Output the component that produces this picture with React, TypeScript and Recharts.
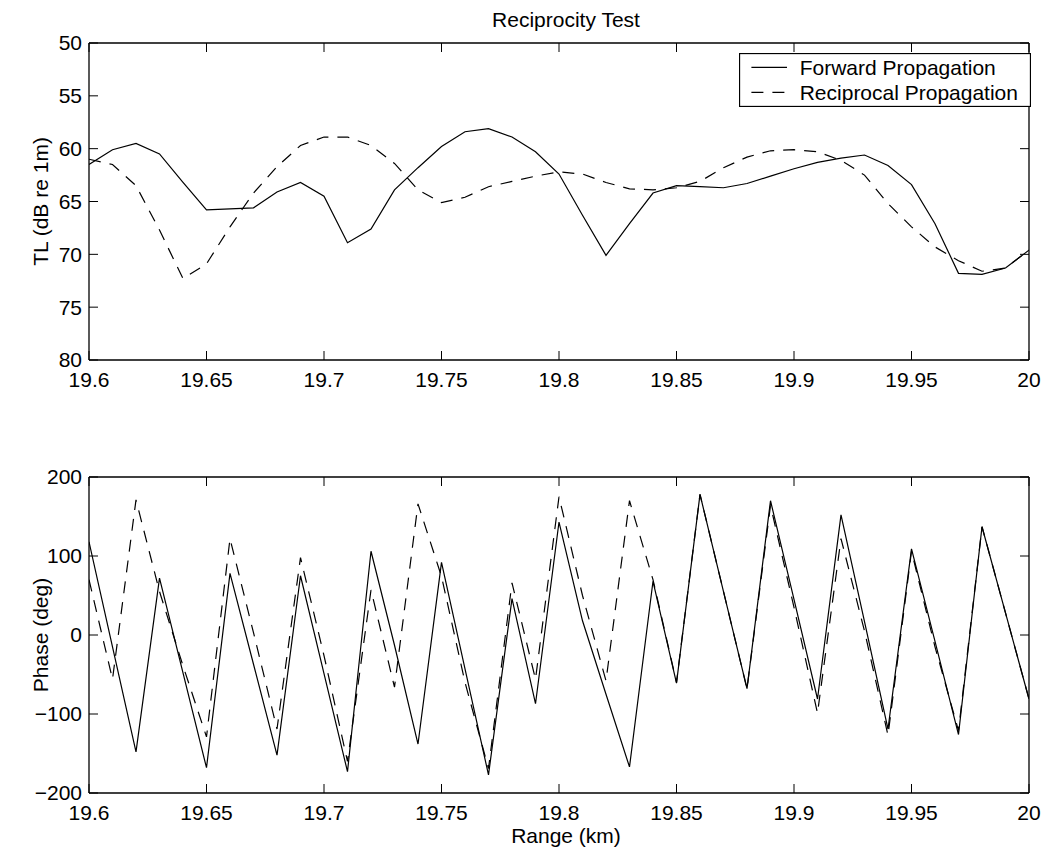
import React from 'react';
import { LineChart, Line, XAxis, YAxis, Legend, Label } from 'recharts';

const FONT = '"Liberation Sans", Arial, Helvetica, sans-serif';
const FS = 21;

const rangeKm = [
  19.60, 19.61, 19.62, 19.63, 19.64, 19.65, 19.66, 19.67, 19.68, 19.69,
  19.70, 19.71, 19.72, 19.73, 19.74, 19.75, 19.76, 19.77, 19.78, 19.79,
  19.80, 19.81, 19.82, 19.83, 19.84, 19.85, 19.86, 19.87, 19.88, 19.89,
  19.90, 19.91, 19.92, 19.93, 19.94, 19.95, 19.96, 19.97, 19.98, 19.99, 20.00,
];

const tlForward = [
  61.5, 60.1, 59.5, 60.5, 63.2, 65.8, 65.7, 65.6, 64.1, 63.2,
  64.5, 68.9, 67.6, 63.9, 61.8, 59.8, 58.4, 58.1, 58.9, 60.3,
  62.4, 66.3, 70.1, 67.1, 64.2, 63.5, 63.6, 63.7, 63.3, 62.6,
  61.9, 61.3, 60.9, 60.6, 61.6, 63.4, 67.1, 71.8, 71.9, 71.3, 69.6,
];

const tlReciprocal = [
  61.0, 61.5, 63.5, 67.7, 72.3, 70.9, 67.4, 64.2, 61.7, 59.7,
  58.9, 58.9, 59.7, 61.4, 63.9, 65.1, 64.6, 63.6, 63.1, 62.6,
  62.2, 62.4, 63.2, 63.8, 63.9, 63.7, 63.1, 61.8, 60.8, 60.2,
  60.1, 60.3, 61.1, 62.5, 65.2, 67.4, 69.3, 70.6, 71.6, 71.3, 69.6,
];

const phaseForward = [
  118, -15, -148, 72, -48, -168, 78, -37, -152, 75,
  -49, -173, 106, -13, -138, 92, -43, -177, 46, -87,
  143, 18, -75, -167, 68, -61, 178, 55, -68, 170,
  45, -81, 152, 17, -119, 109, -8, -126, 137, 28, -81,
];

const phaseReciprocal = [
  70, -56, 171, 55, -39, -129, 122, 3, -119, 98,
  -26, -160, 57, -66, 166, 74, -60, -169, 66, -56,
  175, 50, -58, 170, 70, -60, 178, 55, -68, 164,
  35, -99, 122, 5, -127, 106, -15, -121, 137, 28, -81,
];

const xTicks = [19.6, 19.65, 19.7, 19.75, 19.8, 19.85, 19.9, 19.95, 20];
const xTickLabels = ['19.6', '19.65', '19.7', '19.75', '19.8', '19.85', '19.9', '19.95', '20'];
const tlTicks = [50, 55, 60, 65, 70, 75, 80];
const tlTickLabels = ['50', '55', '60', '65', '70', '75', '80'];
const phaseTicks = [-200, -100, 0, 100, 200];
const phaseTickLabels = ['\u2212200', '\u2212100', '0', '100', '200'];

const seriesNames = ['Forward Propagation', 'Reciprocal Propagation'];
const titleText = 'Reciprocity Test';
const tlAxisTitle = 'TL (dB re 1m)';
const phaseAxisTitle = 'Phase (deg)';
const xAxisTitle = 'Range (km)';

const tlData = rangeKm.map((x, i) => ({ x, forward: tlForward[i], reciprocal: tlReciprocal[i] }));
const phaseData = rangeKm.map((x, i) => ({ x, forward: phaseForward[i], reciprocal: phaseReciprocal[i] }));

const lookup = (ticks: number[], labels: string[]) => (v: number) => {
  const i = ticks.findIndex((t) => Math.abs(t - v) < 1e-6);
  return i >= 0 ? labels[i] : '';
};
const blank = () => '';

const DASH = '12 9';
const tickStyle = { fill: '#000', fontSize: FS, fontFamily: FONT };
const axisLineStyle = { stroke: '#000', strokeWidth: 1.3 };
const tickLineStyle = { stroke: '#000', strokeWidth: 1 };

const TitleContent = (props: any) => {
  const vb = props.viewBox || {};
  return (
    <text x={vb.x + vb.width / 2 + 7} y={26.7} textAnchor="middle" fontFamily={FONT} fontSize={FS} fill="#000">
      {titleText}
    </text>
  );
};

const makeYTitle = (text: string) => (props: any) => {
  const vb = props.viewBox || {};
  const cx = 48.3;
  const cy = vb.y + vb.height / 2;
  return (
    <text x={cx} y={cy} textAnchor="middle" fontFamily={FONT} fontSize={FS} fill="#000" transform={`rotate(-90, ${cx}, ${cy})`}>
      {text}
    </text>
  );
};

const XTitleContent = (props: any) => {
  const vb = props.viewBox || {};
  return (
    <text x={vb.x + vb.width / 2 + 7} y={vb.y + 50} textAnchor="middle" fontFamily={FONT} fontSize={FS} fill="#000">
      {xAxisTitle}
    </text>
  );
};

const LegendBox = (props: any) => {
  const payload = (props.payload || []) as any[];
  const entries = payload.length ? payload : seriesNames.map((n, i) => ({ value: n, payload: { strokeDasharray: i ? DASH : undefined } }));
  return (
    <svg width={292} height={54} style={{ display: 'block' }}>
      <rect x={0.5} y={0.5} width={291} height={53} fill="#fff" stroke="#000" strokeWidth={1.3} />
      {entries.map((e: any, i: number) => {
        const ly = 14.4 + i * 25;
        const dash = e.payload && e.payload.strokeDasharray ? e.payload.strokeDasharray : undefined;
        return (
          <g key={i}>
            <line x1={12.4} x2={48} y1={ly} y2={ly} stroke="#000" strokeWidth={1.2} strokeDasharray={dash} />
            <text x={60.7} y={21.7 + i * 25} fontFamily={FONT} fontSize={FS} fill="#000">
              {e.value}
            </text>
          </g>
        );
      })}
    </svg>
  );
};

export default function App() {
  return (
    <div style={{ position: 'absolute', left: 0, top: 0, width: 1045, height: 854, background: '#fff' }}>
      <div style={{ position: 'absolute', left: 0, top: 0 }}>
        <LineChart width={1045} height={420} data={tlData} margin={{ top: 42, right: 15, bottom: 0, left: 0 }}>
          <XAxis
            xAxisId="b" dataKey="x" type="number" domain={[19.6, 20]} ticks={xTicks} interval={0}
            tickFormatter={lookup(xTicks, xTickLabels)} tick={tickStyle} tickSize={-9} tickMargin={21}
            axisLine={axisLineStyle} tickLine={tickLineStyle} height={60} allowDataOverflow
          />
          <XAxis
            xAxisId="t" orientation="top" dataKey="x" type="number" domain={[19.6, 20]} ticks={xTicks} interval={0}
            tickFormatter={blank} tickSize={-9} tickMargin={0} axisLine={axisLineStyle} tickLine={tickLineStyle} height={1} allowDataOverflow
          >
            <Label content={TitleContent} />
          </XAxis>
          <YAxis
            yAxisId="l" type="number" domain={[50, 80]} reversed ticks={tlTicks} interval={0}
            tickFormatter={lookup(tlTicks, tlTickLabels)} tick={tickStyle} tickSize={-9} tickMargin={16}
            axisLine={axisLineStyle} tickLine={tickLineStyle} width={89} allowDataOverflow
          >
            <Label content={makeYTitle(tlAxisTitle)} />
          </YAxis>
          <YAxis
            yAxisId="r" orientation="right" type="number" domain={[50, 80]} reversed ticks={tlTicks} interval={0}
            tickFormatter={blank} tickSize={-9} tickMargin={0} axisLine={axisLineStyle} tickLine={tickLineStyle} width={1} allowDataOverflow
          />
          <Legend
            layout="vertical" align="center" verticalAlign="middle" content={LegendBox}
            wrapperStyle={{ left: 739, top: 53, width: 292, height: 54 }}
          />
          <Line xAxisId="b" yAxisId="l" type="linear" dataKey="forward" name={seriesNames[0]} stroke="#000" strokeWidth={1.2} dot={false} isAnimationActive={false} />
          <Line xAxisId="b" yAxisId="l" type="linear" dataKey="reciprocal" name={seriesNames[1]} stroke="#000" strokeWidth={1.2} strokeDasharray={DASH} dot={false} isAnimationActive={false} />
        </LineChart>
      </div>
      <div style={{ position: 'absolute', left: 0, top: 420 }}>
        <LineChart width={1045} height={434} data={phaseData} margin={{ top: 56, right: 15, bottom: 0, left: 0 }}>
          <XAxis
            xAxisId="b" dataKey="x" type="number" domain={[19.6, 20]} ticks={xTicks} interval={0}
            tickFormatter={lookup(xTicks, xTickLabels)} tick={tickStyle} tickSize={-9} tickMargin={21}
            axisLine={axisLineStyle} tickLine={tickLineStyle} height={61} allowDataOverflow
          >
            <Label content={XTitleContent} />
          </XAxis>
          <XAxis
            xAxisId="t" orientation="top" dataKey="x" type="number" domain={[19.6, 20]} ticks={xTicks} interval={0}
            tickFormatter={blank} tickSize={-9} tickMargin={0} axisLine={axisLineStyle} tickLine={tickLineStyle} height={1} allowDataOverflow
          />
          <YAxis
            yAxisId="l" type="number" domain={[-200, 200]} ticks={phaseTicks} interval={0}
            tickFormatter={lookup(phaseTicks, phaseTickLabels)} tick={tickStyle} tickSize={-9} tickMargin={16}
            axisLine={axisLineStyle} tickLine={tickLineStyle} width={89} allowDataOverflow
          >
            <Label content={makeYTitle(phaseAxisTitle)} />
          </YAxis>
          <YAxis
            yAxisId="r" orientation="right" type="number" domain={[-200, 200]} ticks={phaseTicks} interval={0}
            tickFormatter={blank} tickSize={-9} tickMargin={0} axisLine={axisLineStyle} tickLine={tickLineStyle} width={1} allowDataOverflow
          />
          <Line xAxisId="b" yAxisId="l" type="linear" dataKey="forward" name={seriesNames[0]} stroke="#000" strokeWidth={1.2} dot={false} isAnimationActive={false} />
          <Line xAxisId="b" yAxisId="l" type="linear" dataKey="reciprocal" name={seriesNames[1]} stroke="#000" strokeWidth={1.2} strokeDasharray={DASH} dot={false} isAnimationActive={false} />
        </LineChart>
      </div>
    </div>
  );
}
